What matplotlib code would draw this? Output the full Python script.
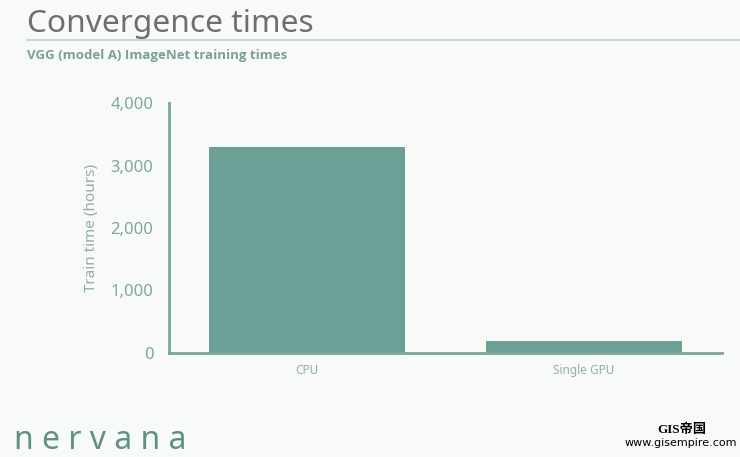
import matplotlib
matplotlib.use("Agg")
import matplotlib.pyplot as plt
from matplotlib.lines import Line2D

categories = ["CPU", "Single GPU"]
train_hours = [3300, 185]
yticks = [0, 1000, 2000, 3000, 4000]
ytick_labels = ["0", "1,000", "2,000", "3,000", "4,000"]

bar_color = "#6c9f96"
axis_color = "#7aa69d"
label_color = "#7fa79f"
font = "Noto Sans"

fig = plt.figure(figsize=(7.4, 4.57), dpi=100)
fig.patch.set_facecolor("#f8faf8")

ax = fig.add_axes([0.228, 0.2276, 0.748, 0.547])
ax.set_facecolor("none")
x = list(range(len(categories)))
ax.bar(x, train_hours, width=0.71, color=bar_color)
ax.set_xlim(-0.5, 1.5)
ax.set_ylim(0, 4000)
ax.set_yticks(yticks)
ax.set_yticklabels(ytick_labels, fontsize=12, color=label_color, family=font)
ax.set_xticks(x)
ax.set_xticklabels(categories, fontsize=8.5, color="#8fb0a9", family=font)
ax.tick_params(axis="both", length=0)
ax.tick_params(axis="y", pad=11)
ax.tick_params(axis="x", pad=8)
for s in ["top", "right"]:
    ax.spines[s].set_visible(False)
for s in ["left", "bottom"]:
    ax.spines[s].set_color(axis_color)
    ax.spines[s].set_linewidth(2)
ax.set_ylabel("Train time (hours)", fontsize=11, color="#8fb0a9", family=font, labelpad=8)

fig.text(0.036, 1 - 32 / 457, "Convergence times", fontsize=22.8, color="#6e6e6e",
         family=font, va="baseline", ha="left")
fig.add_artist(Line2D([0.036, 1.0], [1 - 40 / 457, 1 - 40 / 457], color="#b9cfca", lw=1.2,
                      transform=fig.transFigure))
fig.text(0.036, 1 - 55 / 457, "VGG (model A) ImageNet training times", fontsize=9.5,
         color="#7a9f97", family="Open Sans", weight="bold", va="center", ha="left")

fig.text(0.019, 1 - 449 / 457, "n e r v a n a", fontsize=23, color="#5f8f86",
         family=font, va="baseline", ha="left")
fig.text(0.921, 1 - 433 / 457, "GIS帝国", fontsize=9.5, color="black",
         family=["Liberation Serif", "Noto Sans CJK SC"], weight="bold", ha="center", va="baseline")
fig.text(0.996, 1 - 446 / 457, "www.gisempire.com", fontsize=8, color="black",
         family="Liberation Sans Narrow", ha="right", va="baseline")

fig.savefig("out.png", dpi=100, facecolor=fig.get_facecolor())
